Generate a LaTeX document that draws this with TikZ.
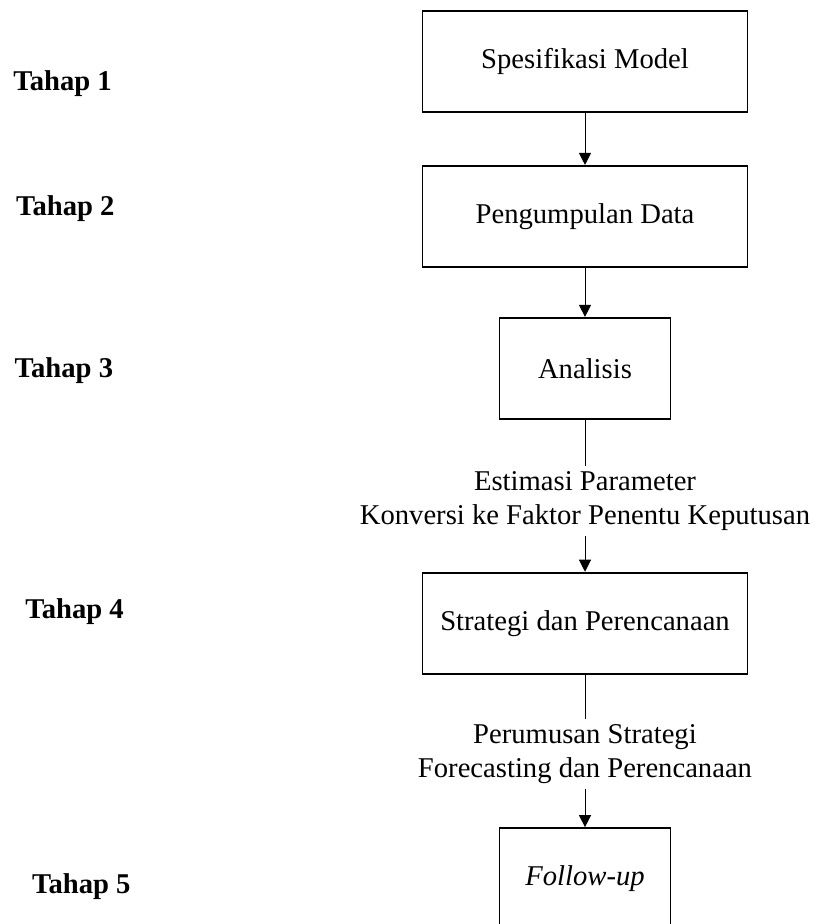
\documentclass[tikz,border=0pt]{standalone}
\usepackage{fontspec}
\setmainfont{Liberation Serif}
\usepackage{tikz}
\usetikzlibrary{arrows.meta, positioning}

\begin{document}
\begin{tikzpicture}[
    >={Triangle[length=0.24cm, width=0.24cm]},
    every node/.style={font=\fontsize{16.3}{19.4}\selectfont},
    box/.style={rectangle, draw, line width=1.1pt, minimum width=6.5cm, minimum height=2.02cm, align=center, inner sep=0pt},
    smallbox/.style={box, minimum width=3.42cm},
    ket/.style={align=center, inner sep=3pt},
    tahap/.style={font=\fontsize{16.3}{19.4}\selectfont\bfseries, inner sep=0pt, anchor=base west},
    conn/.style={line width=0.57pt}
]
\useasboundingbox (0,0) rectangle (16.28,-18.48);

% ============================================================
% TAHAP LABELS
% ============================================================
\node[tahap] (t1) at (0.26, -1.814)  {Tahap 1};
\node[tahap] (t2) at (0.314, -4.314) {Tahap 2};
\node[tahap] (t3) at (0.286, -7.54)  {Tahap 3};
\node[tahap] (t4) at (0.5, -12.36)   {Tahap 4};
\node[tahap] (t5) at (0.634, -17.86) {Tahap 5};

% ============================================================
% MAIN FLOW
% ============================================================
\node[box] (spesifikasi) at (11.70, -1.23) {Spesifikasi Model};
\node[box, below=1.04cm of spesifikasi] (pengumpulan) {Pengumpulan Data};
\node[smallbox, below=0.98cm of pengumpulan] (analisis) {Analisis};
\node[ket, below=0.92cm of analisis] (estimasi) {Estimasi Parameter\\Konversi ke Faktor Penentu Keputusan};
\node[box, below=0.71cm of estimasi] (strategi) {Strategi dan Perencanaan};
\node[ket, below=0.88cm of strategi] (perumusan) {Perumusan Strategi\\Forecasting dan Perencanaan};
\node[smallbox, below=0.76cm of perumusan] (followup) {\textit{Follow-up}};

\draw[conn, ->] (spesifikasi) -- (pengumpulan);
\draw[conn, ->] (pengumpulan) -- (analisis);
\draw[conn] (analisis) -- (estimasi);
\draw[conn, ->] (estimasi) -- (strategi);
\draw[conn] (strategi) -- (perumusan);
\draw[conn, ->] (perumusan) -- (followup);

\end{tikzpicture}
\end{document}
